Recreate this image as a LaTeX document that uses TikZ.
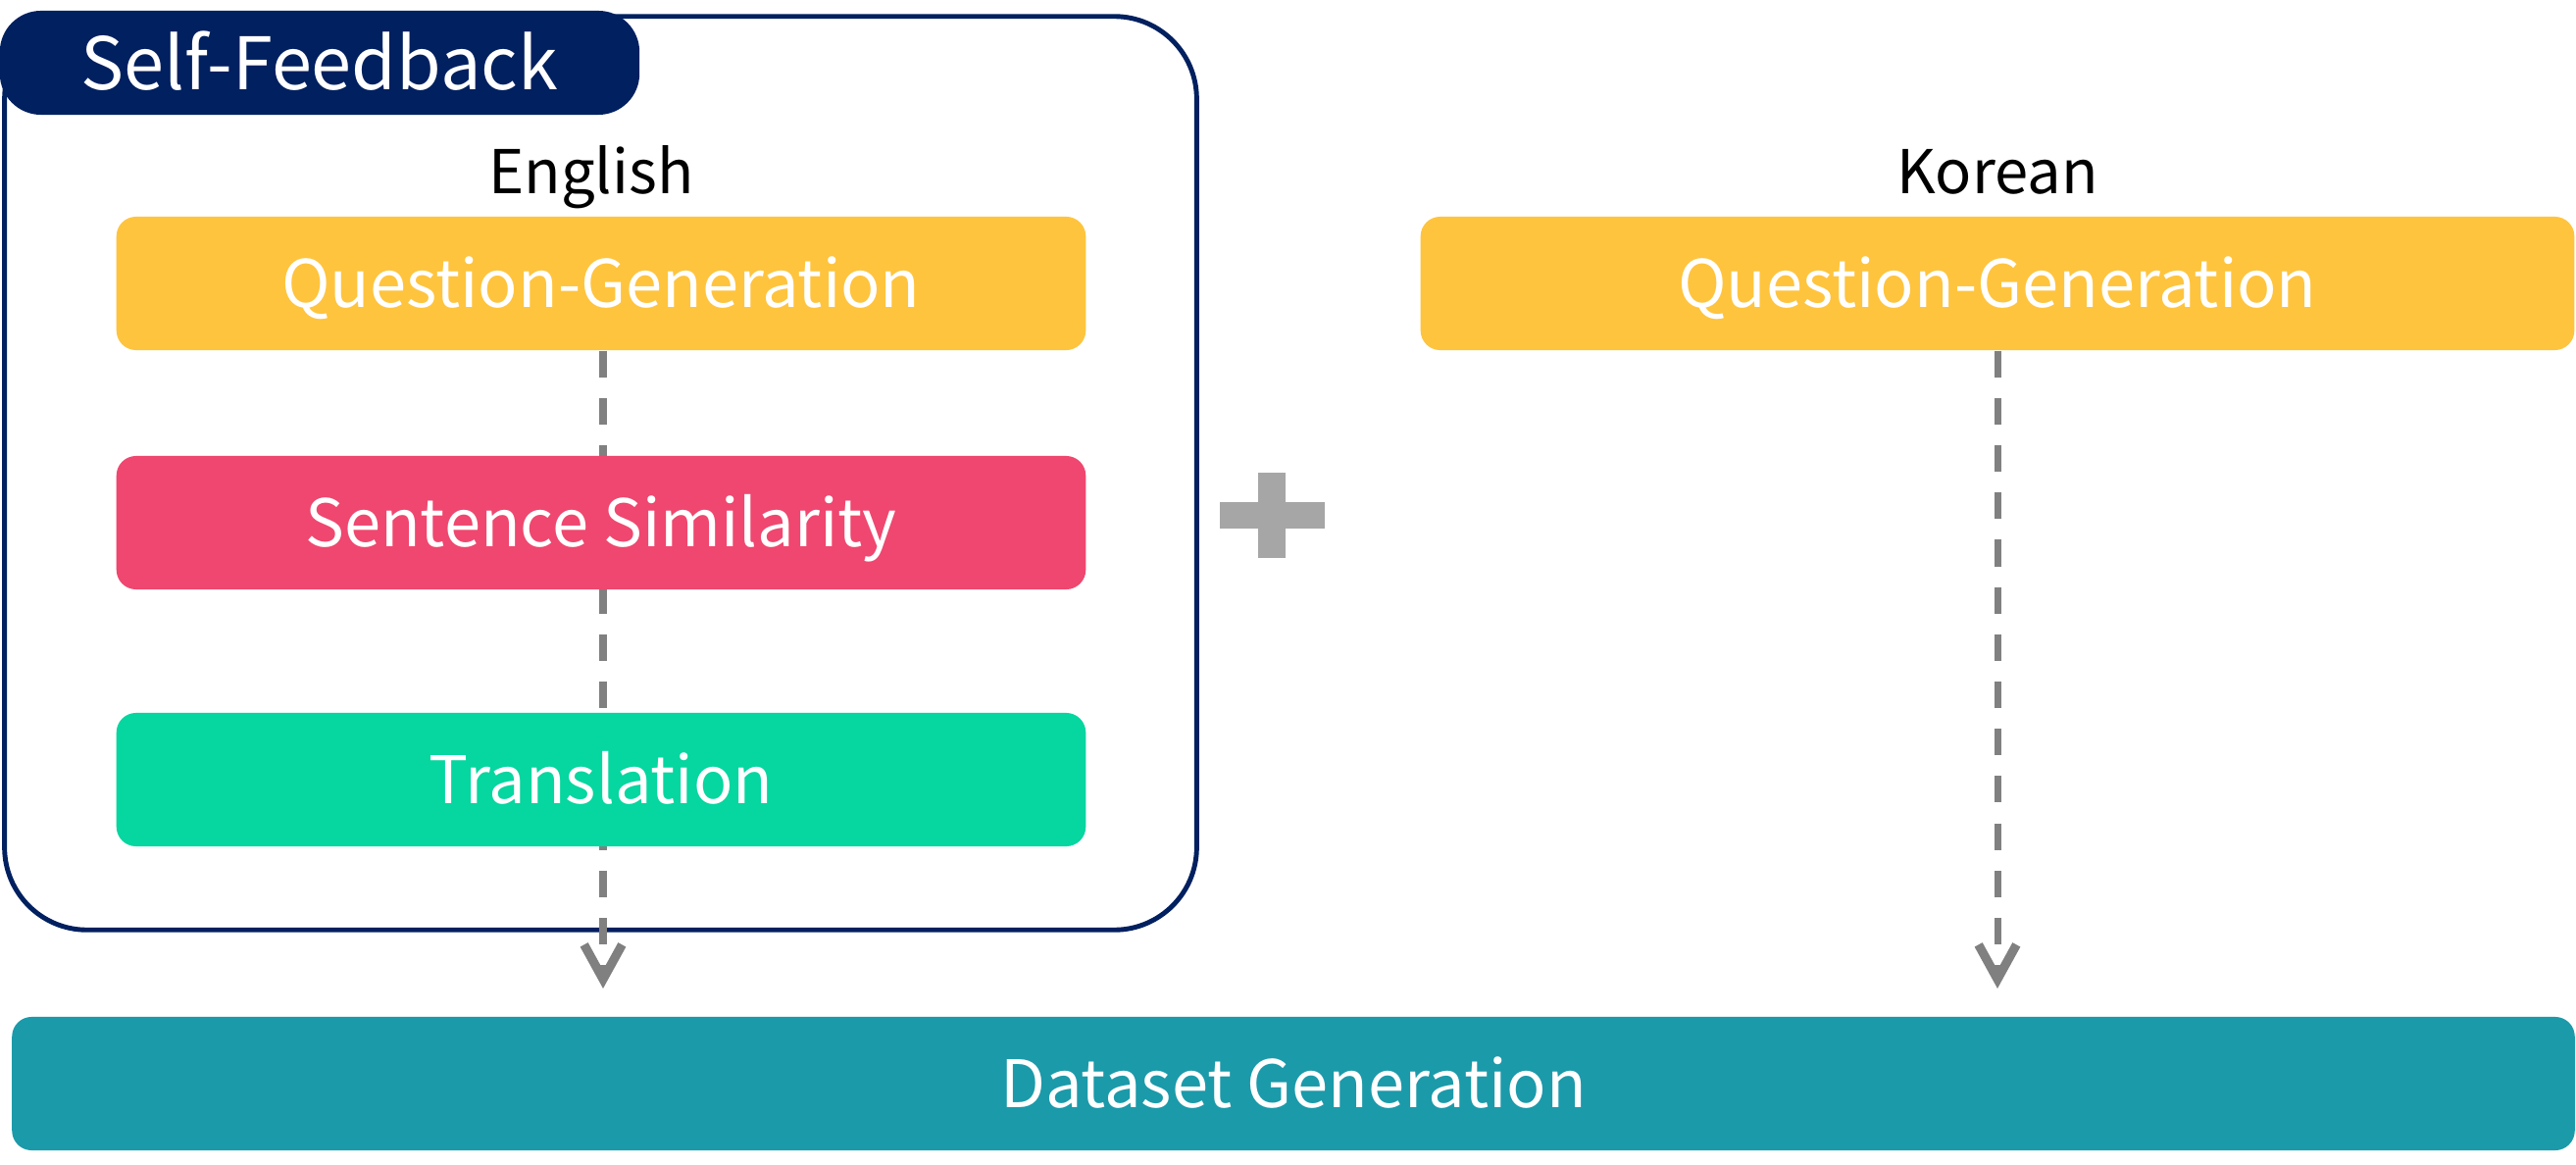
\documentclass[tikz,border=0pt]{standalone}
\usepackage{fontspec}
\setmainfont{Noto Sans CJK KR}
\usepackage{tikz}
\usetikzlibrary{arrows.meta}
\usetikzlibrary{backgrounds}
\usetikzlibrary{positioning}

\definecolor{navy}{HTML}{002060}
\definecolor{qgyellow}{HTML}{FFC43D}
\definecolor{simpink}{HTML}{EF476F}
\definecolor{transgreen}{HTML}{06D6A0}
\definecolor{datateal}{HTML}{1B9AAA}
\definecolor{flowgray}{HTML}{808080}
\definecolor{plusgray}{HTML}{A6A6A6}

\begin{document}
\begin{tikzpicture}[x=0.01cm,y=-0.01cm,
    stepbox/.style={text height=16.4pt,text depth=2.6pt,rounded corners=0.2cm,
      minimum height=1.36cm,inner sep=0pt,text=white,font=\fontsize{19}{22}\selectfont},
    langlabel/.style={text height=15.1pt,text depth=2.4pt,inner sep=0pt,
      font=\fontsize{17.5}{20}\selectfont},
    flow/.style={flowgray,line width=2pt,dash pattern=on 7.7pt off 6pt,
      -{Straight Barb[length=10pt,width=11pt,line width=2.6pt]}}]
    \useasboundingbox (0,0) rectangle (2627,1188);

    \begin{scope}[on background layer]
      \node[draw=navy,line width=1.4pt,rounded corners=0.84cm,minimum width=12.15cm,
        minimum height=9.31cm,inner sep=0pt] (frame) at (612.5,482.5) {};
    \end{scope}
    \node[text height=18.2pt,text depth=2.8pt,fill=navy,rounded corners=0.42cm,
      minimum width=6.52cm,minimum height=1.06cm,inner sep=0pt,text=white,
      font=\fontsize{21}{24}\selectfont] (tab) at (326,64) {Self-Feedback};

    \node[langlabel] (english) at (603,175) {English};
    \node[langlabel] (korean) at (2037,175) {Korean};

    \node[stepbox,fill=qgyellow,minimum width=9.88cm] (qgen) at (613,289) {Question-Generation};
    \node[stepbox,fill=simpink,minimum width=9.88cm] (simil) at (613,533) {Sentence Similarity};
    \node[stepbox,fill=transgreen,minimum width=9.88cm] (trans) at (613,795) {Translation};
    \node[stepbox,fill=qgyellow,minimum width=11.76cm] (qgenko) at (2037,289) {Question-Generation};
    \node[stepbox,fill=datateal,minimum width=26.12cm] (dataset) at (1319,1105) {Dataset Generation};

    % plus between the two branches
    \fill[plusgray] (1244,512) rectangle (1351,539);
    \fill[plusgray] (1283,482) rectangle (1311,569);

    \coordinate (tipen) at (615,1008);
    \coordinate (tipko) at (2037,1008);
    \begin{scope}[on background layer]
      \draw[flow] (qgen.south -| tipen) -- (tipen);
      \draw[flow] (qgenko.south -| tipko) -- (tipko);
    \end{scope}
\end{tikzpicture}
\end{document}
